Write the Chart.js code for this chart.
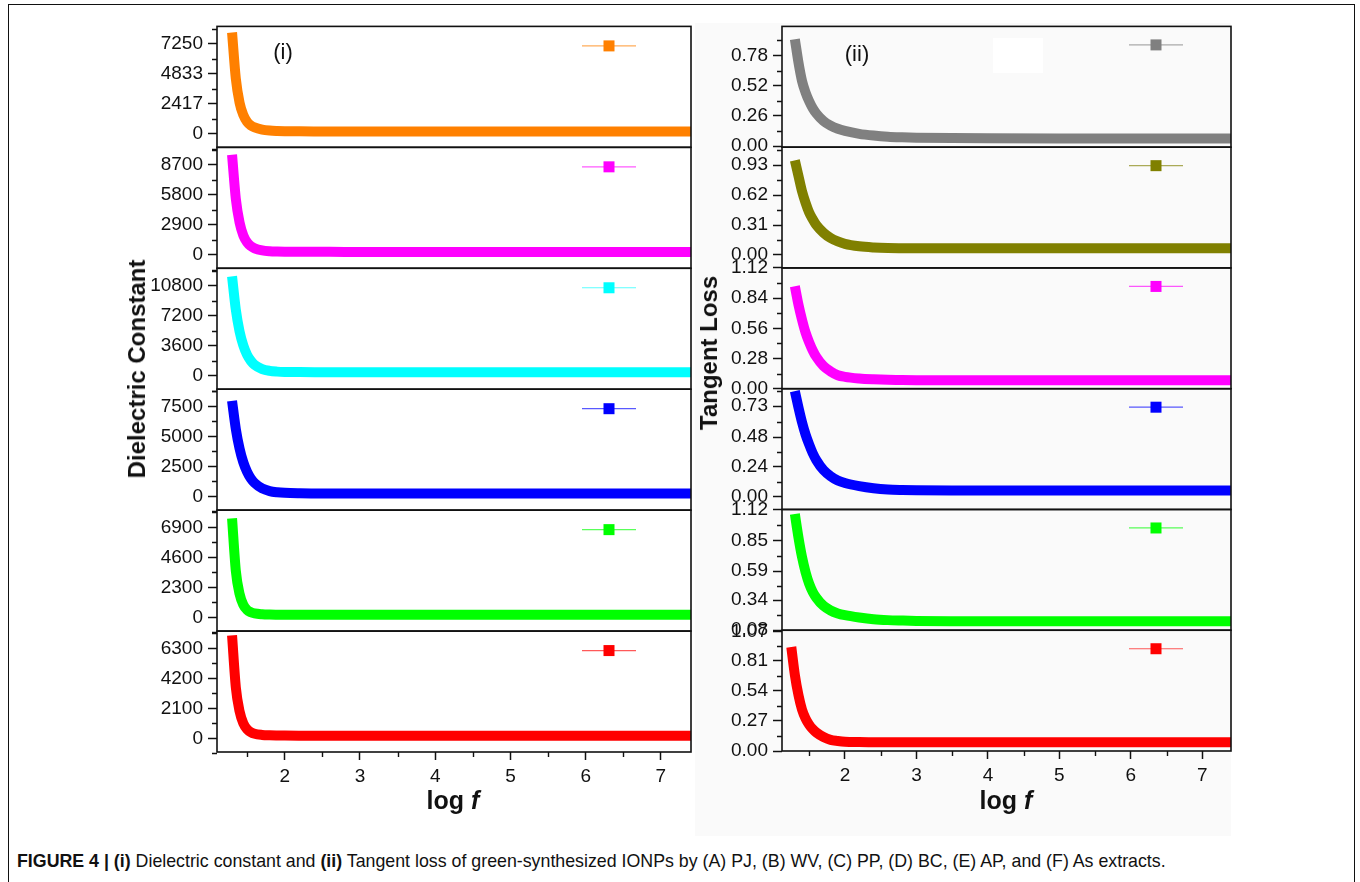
<!DOCTYPE html>
<html>
<head>
<meta charset="utf-8">
<title>Figure 4</title>
<script src="https://cdn.jsdelivr.net/npm/chart.js@4.4.1/dist/chart.umd.min.js"></script>
<style>
  html, body { margin: 0; padding: 0; background: #fff; }
  body { width: 1360px; height: 882px; position: relative; overflow: hidden; font-family: "Liberation Sans", Arial, sans-serif; color: #111; }
  #frame { position: absolute; left: 8px; top: 4px; width: 1347px; height: 900px; border: 1.5px solid #111; box-sizing: border-box; }
  #rightBg { position: absolute; left: 695px; top: 23px; width: 536px; height: 813px; background: #fafafa; }
  #patch { position: absolute; left: 993px; top: 38px; width: 50px; height: 35px; background: #fff; }
  canvas { position: absolute; }
  .txt { position: absolute; white-space: nowrap; }
  .ytitle { font-weight: bold; font-size: 24px; transform: translate(-50%, -50%) rotate(-90deg); }
  .xtitle { font-weight: bold; font-size: 25px; transform: translate(-50%, -50%); }
  .tag { font-size: 22px; transform: translate(-50%, -50%); }
  #caption { left: 17px; top: 851px; font-size: 17.8px; }
</style>
</head>
<body>
<div id="frame"></div>
<div id="rightBg"></div>
<div id="patch"></div>
<canvas id="dielectric" width="600" height="800" style="left:100px; top:10px;"></canvas>
<canvas id="tangent" width="560" height="800" style="left:680px; top:10px;"></canvas>

<div class="txt tag" style="left:283px; top:52px;">(i)</div>
<div class="txt tag" style="left:857px; top:54px;">(ii)</div>
<div class="txt ytitle" style="left:137px; top:369px;">Dielectric Constant</div>
<div class="txt ytitle" style="left:709px; top:353px;">Tangent Loss</div>
<div class="txt xtitle" style="left:453px; top:800px;">log <i>f</i></div>
<div class="txt xtitle" style="left:1006px; top:800px;">log <i>f</i></div>
<div class="txt" id="caption"><b>FIGURE 4 | (i)</b> Dielectric constant and <b>(ii)</b> Tangent loss of green-synthesized IONPs by (A) PJ, (B) WV, (C) PP, (D) BC, (E) AP, and (F) As extracts.</div>

<script>
// log f, shared by every curve
const logF = [1.25, 1.30, 1.35, 1.40, 1.45, 1.50, 1.55, 1.60, 1.70, 1.80, 1.90, 2.0, 2.2, 2.4, 2.6, 2.8, 3.0, 3.5, 4.0, 5.0, 6.0, 7.0, 7.4];

// (i) dielectric constant, panels top to bottom
const dielectricPJ = [null, 8150, 4450, 2500, 1500, 950, 660, 500, 330, 250, 215, 198, 186, 182, 180, 178, 177, 176, 175, 175, 175, 175, 175];
const dielectricWV = [null, 9650, 5400, 3100, 1850, 1180, 820, 610, 410, 325, 292, 278, 270, 268, 265, 264, 263, 262, 260, 260, 260, 260, 260];
const dielectricPP = [null, 11900, 7900, 5290, 3600, 2480, 1760, 1290, 780, 560, 470, 430, 410, 400, 395, 390, 390, 388, 385, 385, 385, 385, 385];
const dielectricBC = [null, 7970, 5630, 3990, 2840, 2050, 1500, 1120, 670, 450, 350, 300, 265, 255, 250, 248, 247, 246, 245, 245, 245, 245, 245];
const dielectricAP = [null, 7590, 3580, 1800, 960, 570, 390, 300, 235, 212, 204, 200, 198, 197, 196, 195, 195, 195, 195, 195, 195, 195, 195];
const dielectricAs = [null, 7200, 3580, 1900, 1050, 640, 430, 320, 240, 212, 200, 194, 189, 187, 186, 185, 185, 185, 185, 185, 185, 185, 185];

// (ii) tangent loss, panels top to bottom
const tangentPJ = [null, 0.92, 0.72, 0.56, 0.46, 0.385, 0.325, 0.28, 0.215, 0.175, 0.148, 0.13, 0.105, 0.09, 0.08, 0.075, 0.072, 0.068, 0.066, 0.065, 0.065, 0.065, 0.065];
const tangentWV = [null, 0.98, 0.82, 0.66, 0.54, 0.44, 0.37, 0.31, 0.23, 0.175, 0.14, 0.115, 0.09, 0.078, 0.072, 0.07, 0.069, 0.069, 0.069, 0.069, 0.069, 0.069, 0.069];
const tangentPP = [null, 0.95, 0.78, 0.64, 0.52, 0.43, 0.355, 0.295, 0.21, 0.16, 0.125, 0.11, 0.095, 0.087, 0.082, 0.08, 0.079, 0.078, 0.078, 0.078, 0.078, 0.078, 0.078];
const tangentBC = [null, 0.85, 0.72, 0.60, 0.50, 0.42, 0.35, 0.295, 0.215, 0.165, 0.13, 0.11, 0.085, 0.068, 0.058, 0.054, 0.052, 0.05, 0.05, 0.05, 0.05, 0.05, 0.05];
const tangentAP = [null, 1.08, 0.88, 0.71, 0.58, 0.48, 0.41, 0.36, 0.29, 0.25, 0.225, 0.21, 0.19, 0.175, 0.167, 0.163, 0.16, 0.158, 0.158, 0.158, 0.158, 0.158, 0.158];
const tangentAs = [0.93, 0.68, 0.50, 0.37, 0.29, 0.235, 0.195, 0.165, 0.125, 0.10, 0.09, 0.083, 0.08, 0.079, 0.078, 0.078, 0.078, 0.078, 0.078, 0.078, 0.078, 0.078, 0.078];

// y tick values and axis ranges, top panel first
const dielectricTicks = [[0, 2417, 4833, 7250], [0, 2900, 5800, 8700], [0, 3600, 7200, 10800], [0, 2500, 5000, 7500], [0, 2300, 4600, 6900], [0, 2100, 4200, 6300]];
const dielectricRange = [[-1100, 8640], [-1320, 10370], [-1640, 12870], [-1140, 8940], [-1050, 8220], [-955, 7505]];
const tangentTicks = [[0, 0.26, 0.52, 0.78], [0, 0.31, 0.62, 0.93], [0, 0.28, 0.56, 0.84, 1.12], [0, 0.24, 0.48, 0.73], [0.08, 0.34, 0.59, 0.85, 1.12], [0, 0.27, 0.54, 0.81, 1.07]];
const tangentRange = [[-0.01, 1.03], [-0.134, 1.116], [0, 1.12], [-0.103, 0.87], [0.08, 1.12], [0, 1.08]];

const xTicks = [2, 3, 4, 5, 6, 7];
const xMinorTicks = [1.5, 2.5, 3.5, 4.5, 5.5, 6.5];

const dielectricColors = ['#ff8000', '#ff00ff', '#00ffff', '#0000ff', '#00ff00', '#ff0000'];
const tangentColors = ['#808080', '#808000', '#ff00ff', '#0000ff', '#00ff00', '#ff0000'];

const FONT = '"Liberation Sans", Arial, sans-serif';
const INK = '#111';

// half-step ticks between (and just outside) the labelled ones
function minorsOf(ticks, range) {
  const step = ticks[1] - ticks[0];
  const out = [];
  for (let i = -1; i < ticks.length; i++) {
    const base = i < 0 ? ticks[0] - step : ticks[i];
    const next = i < ticks.length - 1 ? ticks[i + 1] : ticks[i] + step;
    const m = (base + next) / 2;
    if (m >= range[0] - step * 0.06 && m <= range[1]) out.push(m);
  }
  return out;
}

const panelFrame = {
  id: 'panelFrame',
  afterDatasetsDraw(chart) {
    const { ctx, chartArea: a } = chart;
    const cfg = chart.options.plugins.panelFrame;
    ctx.save();
    ctx.strokeStyle = INK;
    ctx.lineWidth = 1.6;
    cfg.panels.forEach((p, i) => {
      const s = chart.scales['p' + i];
      ctx.strokeRect(a.left, s.top, a.right - a.left, s.bottom - s.top);
      // minor ticks
      ctx.beginPath();
      minorsOf(p.ticks, p.range).forEach(v => {
        const y = Math.round(s.getPixelForValue(v)) + 0.5;
        ctx.moveTo(a.left - 5, y);
        ctx.lineTo(a.left, y);
      });
      ctx.lineWidth = 1.4;
      ctx.stroke();
      ctx.lineWidth = 1.6;
      // legend mark: line, square, line
      const lx = a.right - cfg.legendRight;
      const ly = s.top + cfg.legendTop;
      ctx.save();
      ctx.strokeStyle = p.color;
      ctx.globalAlpha = 0.65;
      ctx.lineWidth = 1.2;
      ctx.beginPath();
      ctx.moveTo(lx - 27, ly + 0.5);
      ctx.lineTo(lx + 27, ly + 0.5);
      ctx.stroke();
      ctx.globalAlpha = 1;
      ctx.fillStyle = p.color;
      ctx.fillRect(lx - 5.5, ly - 5, 11, 11);
      ctx.restore();
    });
    const xs = chart.scales.x;
    ctx.beginPath();
    xMinorTicks.forEach(v => {
      const x = Math.round(xs.getPixelForValue(v)) + 0.5;
      ctx.moveTo(x, a.bottom);
      ctx.lineTo(x, a.bottom + 5);
    });
    ctx.lineWidth = 1.4;
    ctx.stroke();
    ctx.restore();
  }
};

function makeColumn(canvasId, panels, opt) {
  const scales = {};
  const datasets = [];
  // left stacked axes are laid out from the last defined one at the top,
  // so define the bottom panel first
  for (let i = panels.length - 1; i >= 0; i--) {
    const p = panels[i];
    scales['p' + i] = {
      type: 'linear', position: 'left', stack: 'col', stackWeight: 1, offset: false,
      min: p.range[0], max: p.range[1],
      afterBuildTicks: s => { s.ticks = p.ticks.map(v => ({ value: v })); },
      afterFit: s => { s.width = opt.yWidth; },
      grid: { drawOnChartArea: false, drawTicks: true, tickLength: 9, tickColor: INK, tickWidth: 1.5 },
      border: { display: false },
      ticks: { autoSkip: false, padding: 5, color: INK, font: { family: FONT, size: 19 }, callback: v => opt.fmt(v) }
    };
  }
  panels.forEach((p, i) => {
    datasets.push({
      data: logF.map((x, k) => ({ x: x, y: p.data[k] })).filter(d => d.y !== null),
      yAxisID: 'p' + i,
      borderColor: p.color,
      borderWidth: 10,
      borderCapStyle: 'butt',
      borderJoinStyle: 'round',
      cubicInterpolationMode: 'monotone',
      pointRadius: 0,
      fill: false
    });
  });
  scales.x = {
    type: 'linear', position: 'bottom', min: opt.xMin, max: 7.4,
    afterBuildTicks: s => { s.ticks = xTicks.map(v => ({ value: v })); },
    afterFit: s => { s.height = opt.xHeight; },
    grid: { drawOnChartArea: false, drawTicks: true, tickLength: 8, tickColor: INK, tickWidth: 1.5 },
    border: { display: false },
    ticks: { autoSkip: false, maxRotation: 0, padding: 5, color: INK, font: { family: FONT, size: 19 }, callback: v => String(v) }
  };

  return new Chart(document.getElementById(canvasId), {
    type: 'line',
    data: { datasets: datasets },
    options: {
      responsive: false,
      animation: false,
      devicePixelRatio: 1,
      layout: { padding: { top: opt.padTop, right: opt.padRight, left: 0, bottom: 0 } },
      scales: scales,
      plugins: {
        legend: { display: false },
        tooltip: { enabled: false },
        panelFrame: { panels: panels, legendRight: opt.legendRight, legendTop: opt.legendTop }
      }
    },
    plugins: [panelFrame]
  });
}

const dielectricSeries = [dielectricPJ, dielectricWV, dielectricPP, dielectricBC, dielectricAP, dielectricAs];
const tangentSeries = [tangentPJ, tangentWV, tangentPP, tangentBC, tangentAP, tangentAs];

makeColumn('dielectric',
  dielectricSeries.map((d, i) => ({ data: d, color: dielectricColors[i], ticks: dielectricTicks[i], range: dielectricRange[i] })),
  { yWidth: 117, xHeight: 58, padTop: 15, padRight: 9, xMin: 1.10, legendRight: 82, legendTop: 19, fmt: v => String(v) });

makeColumn('tangent',
  tangentSeries.map((d, i) => ({ data: d, color: tangentColors[i], ticks: tangentTicks[i], range: tangentRange[i] })),
  { yWidth: 102, xHeight: 59, padTop: 14, padRight: 9, xMin: 1.12, legendRight: 75, legendTop: 18, fmt: v => v.toFixed(2) });
</script>
</body>
</html>
